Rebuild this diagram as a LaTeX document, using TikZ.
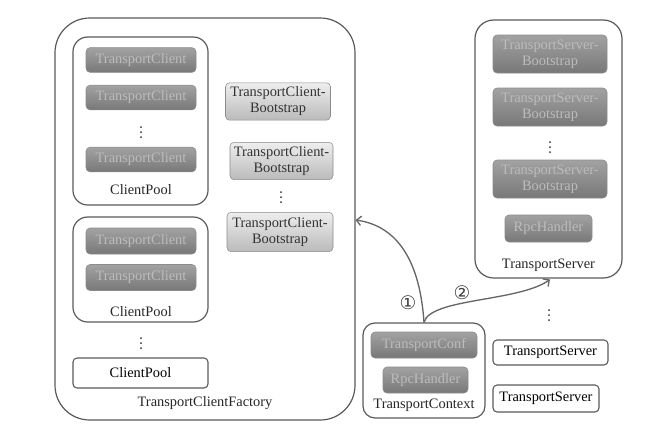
\documentclass[tikz,border=0pt]{standalone}
\usepackage{fontspec}
\setmainfont{Liberation Serif}
\newfontfamily\tms{Liberation Serif}
\newfontfamily\djv{DejaVu Sans}
\usetikzlibrary{arrows.meta}
\definecolor{edge}{HTML}{5A5A5A}
\definecolor{dtop}{HTML}{A2A2A2}
\definecolor{dbot}{HTML}{787878}
\definecolor{dtext}{HTML}{BCBCBC}
\definecolor{ltop}{HTML}{EEEEEE}
\definecolor{lbot}{HTML}{BABABA}
\definecolor{ltext}{HTML}{333333}
\tikzset{
  txt/.style={font=\tms\fontsize{10.8}{12}\selectfont, text=black!85},
  outer/.style={draw=edge, line width=0.9pt, fill=white, rectangle},
  darkbox/.style={rectangle, rounded corners=3pt, draw=black!45, line width=0.4pt,
     top color=dtop, bottom color=dbot, text=dtext, align=center,
     font=\tms\fontsize{10.8}{12}\selectfont, inner sep=1pt},
  lightbox/.style={rectangle, rounded corners=3pt, draw=black!45, line width=0.4pt,
     top color=ltop, bottom color=lbot, text=ltext, align=center,
     font=\tms\fontsize{10.8}{12}\selectfont, inner sep=1pt},
  plainbox/.style={rectangle, rounded corners=3pt, draw=edge, line width=0.8pt,
     fill=white, align=center, font=\tms\fontsize{10.8}{12}\selectfont, inner sep=1pt},
  dot/.style={fill=black!80},
  conn/.style={draw=black!60, line width=1pt, -{Straight Barb[length=3.5pt,width=7pt]}},
  num/.style={font=\djv\fontsize{14}{14}\selectfont, text=black!75, inner sep=0pt},
}
\newcommand\vdotsat[2]{%
  \fill[dot] (#1,#2-5) circle (0.75pt);
  \fill[dot] (#1,#2) circle (0.75pt);
  \fill[dot] (#1,#2+5) circle (0.75pt);}
\begin{document}
\begin{tikzpicture}[x=0.75pt, y=-0.75pt]
\useasboundingbox (0,0) rectangle (669,430);
% factory
\node[outer, rounded corners=26pt, minimum width=225pt, minimum height=301.5pt] (fac) at (205,219) {};
\node[txt] (faclbl) at (205,403) {TransportClientFactory};
% client pool 1
\node[outer, rounded corners=11pt, minimum width=101.25pt, minimum height=126pt] (cp1) at (140.5,121) {};
\node[darkbox, minimum width=82.5pt, minimum height=18.5pt] (tc1) at (141,60) {TransportClient};
\node[darkbox, minimum width=82.5pt, minimum height=18.5pt] (tc2) at (141,97.5) {TransportClient};
\vdotsat{141}{132}
\node[darkbox, minimum width=82.5pt, minimum height=18.5pt] (tc3) at (141,159.5) {TransportClient};
\node[txt] (cp1lbl) at (141,190) {ClientPool};
% client pool 2
\node[outer, rounded corners=11pt, minimum width=101.25pt, minimum height=78.75pt] (cp2) at (140.5,269.5) {};
\node[darkbox, minimum width=82.5pt, minimum height=19.5pt] (tc4) at (141,241) {TransportClient};
\node[darkbox, minimum width=82.5pt, minimum height=19.5pt] (tc5) at (141,277.5) {TransportClient};
\node[txt] (cp2lbl) at (141,312) {ClientPool};
\vdotsat{141}{343}
\node[plainbox, minimum width=101.25pt, minimum height=22.5pt] (cp3) at (140.5,373) {ClientPool};
% client bootstraps
\node[lightbox, minimum width=78.75pt, minimum height=28pt] (cb1) at (278,101.5) {TransportClient-\\Bootstrap};
\node[lightbox, minimum width=77.25pt, minimum height=28pt] (cb2) at (281.5,161) {TransportClient-\\Bootstrap};
\vdotsat{281}{197}
\node[lightbox, minimum width=79.5pt, minimum height=29.5pt] (cb3) at (280,232) {TransportClient-\\Bootstrap};
% transport server
\node[outer, rounded corners=14pt, minimum width=110.25pt, minimum height=193.5pt] (ts) at (548.5,149) {};
\node[darkbox, minimum width=85.5pt, minimum height=28.5pt] (sb1) at (550,54) {TransportServer-\\Bootstrap};
\node[darkbox, minimum width=85.5pt, minimum height=28.5pt] (sb2) at (550,107) {TransportServer-\\Bootstrap};
\vdotsat{550}{147}
\node[darkbox, minimum width=85.5pt, minimum height=28.5pt] (sb3) at (550,179) {TransportServer-\\Bootstrap};
\node[darkbox, minimum width=65.25pt, minimum height=20.25pt] (rh1) at (548.5,228.5) {RpcHandler};
\node[txt] (tslbl) at (548.5,265) {TransportServer};
% transport context
\node[outer, rounded corners=9pt, minimum width=91.5pt, minimum height=71.25pt] (ctx) at (424,370.5) {};
\node[darkbox, minimum width=79.5pt, minimum height=19.5pt] (conf) at (424,345) {TransportConf};
\node[darkbox, minimum width=63.75pt, minimum height=19.5pt] (rh2) at (425.5,380) {RpcHandler};
\node[txt] (ctxlbl) at (424,405) {TransportContext};
% other servers
\vdotsat{549}{315}
\node[plainbox, minimum width=86.25pt, minimum height=18.75pt] (ts2) at (550.5,352.5) {TransportServer};
\node[plainbox, minimum width=79.5pt, minimum height=20.25pt] (ts3) at (546,398.5) {TransportServer};
% connectors
\coordinate (a1) at (355.5,220);
\coordinate (a2) at (550,279.5);
\draw[conn] (ctx.north) .. controls (420,262) and (398,226) .. (a1);
\draw[conn] (ctx.north) .. controls (430,298) and (518,302) .. (a2);
\node[num] (n1) at (408,303) {①};
\node[num] (n2) at (462,293) {②};
\end{tikzpicture}
\end{document}
